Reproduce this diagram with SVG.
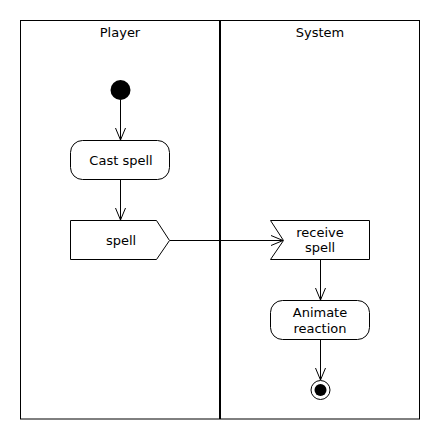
<svg xmlns="http://www.w3.org/2000/svg" width="440" height="440" viewBox="0 0 440 440">
<defs>
<style>
text{font-family:"DejaVu Sans","Liberation Sans",sans-serif;font-size:13px;fill:#000;text-anchor:middle}
.shape{fill:#fff;stroke:#000;stroke-width:1}
.edge{fill:none;stroke:#000;stroke-width:1}
</style>
<marker id="open" markerWidth="14" markerHeight="12" refX="12" refY="6" orient="auto" markerUnits="userSpaceOnUse" viewBox="0 0 14 12">
<path d="M0,1 L12,6 L0,11" fill="none" stroke="#000" stroke-width="1"/>
</marker>
</defs>
<rect x="0" y="0" width="440" height="440" fill="#fff"/>
<g id="lanes">
<rect x="20.5" y="20.5" width="399" height="398.5" fill="none" stroke="#000" stroke-width="1"/>
<line x1="220" y1="20" x2="220" y2="419" stroke="#000" stroke-width="2"/>
<text x="120" y="37">Player</text>
<text x="320" y="37">System</text>
</g>
<g id="connectors">
<line class="edge" x1="120.5" y1="100" x2="120.5" y2="140" marker-end="url(#open)"/>
<line class="edge" x1="120.5" y1="180" x2="120.5" y2="220" marker-end="url(#open)"/>
<line class="edge" x1="170" y1="240.5" x2="283" y2="240.5" marker-end="url(#open)"/>
<line class="edge" x1="320.5" y1="259" x2="320.5" y2="300" marker-end="url(#open)"/>
<line class="edge" x1="320.5" y1="339" x2="320.5" y2="380" marker-end="url(#open)"/>
</g>
<g id="start">
<circle cx="120.5" cy="90" r="10" fill="#000"/>
</g>
<g id="cast-spell">
<rect class="shape" x="70.5" y="140.5" width="99" height="39" rx="12" ry="12"/>
<text x="121" y="165">Cast spell</text>
</g>
<g id="send-spell">
<path class="shape" d="M70.5,220.5 L156.5,220.5 L169.5,240.5 L156.5,259.5 L70.5,259.5 Z"/>
<text x="121" y="245">spell</text>
</g>
<g id="receive-spell">
<path class="shape" d="M270.5,220.5 L369.5,220.5 L369.5,259.5 L270.5,259.5 L283.5,240.5 Z"/>
<text x="320" y="237">receive</text>
<text x="320" y="252">spell</text>
</g>
<g id="animate-reaction">
<rect class="shape" x="270.5" y="300.5" width="99" height="39" rx="12" ry="12"/>
<text x="320" y="317">Animate</text>
<text x="320" y="333">reaction</text>
</g>
<g id="end">
<circle cx="320.5" cy="390" r="9.5" fill="#fff" stroke="#000" stroke-width="1"/>
<circle cx="320.5" cy="390" r="6" fill="#000"/>
</g>
</svg>
